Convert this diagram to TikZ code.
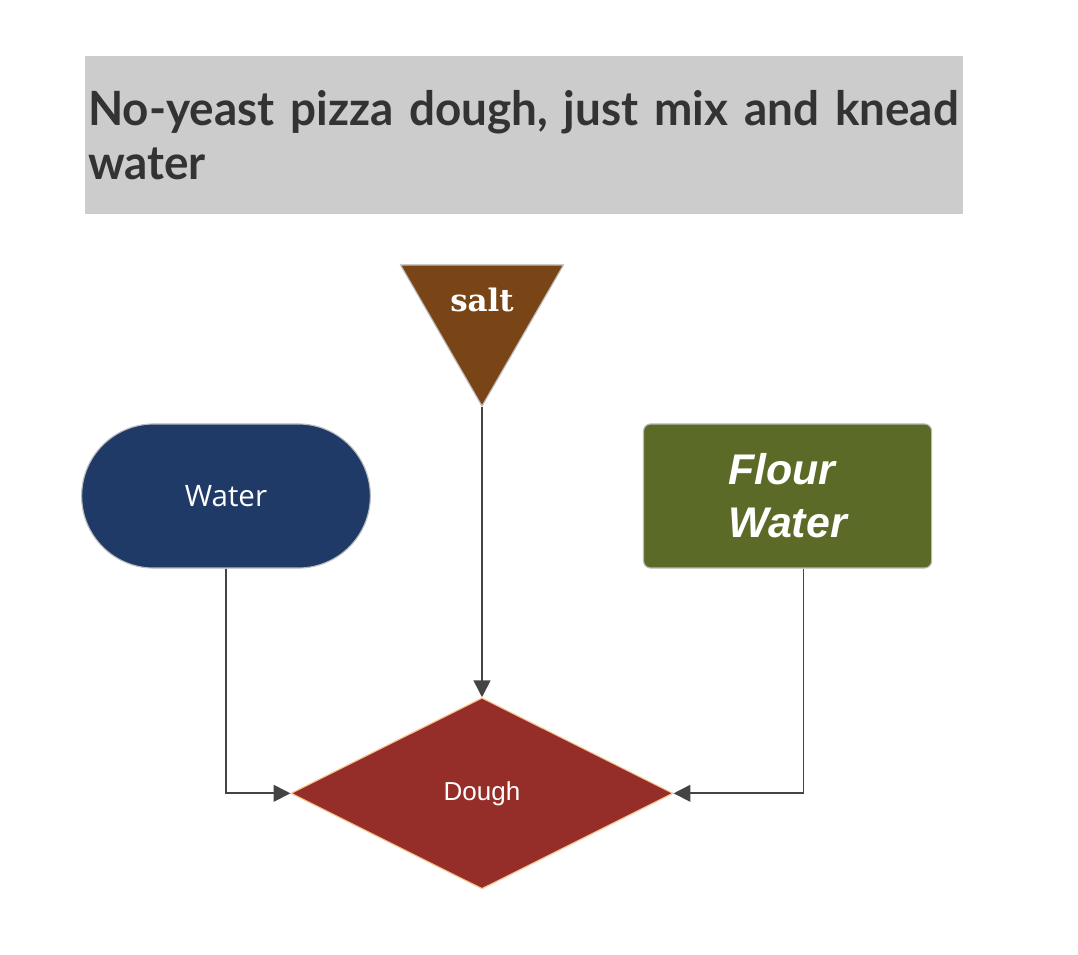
\documentclass[tikz,border=0pt]{standalone}
\usepackage{fontspec}
\usetikzlibrary{positioning,shapes.geometric,shapes.misc,arrows.meta}
\newfontfamily\titlefont[FakeStretch=0.97,WordSpace=0.8]{Lato}
\newfontfamily\saltfont{DejaVu Serif}
\newfontfamily\waterfont{Open Sans}
\newfontfamily\arialfont{Liberation Sans}
\definecolor{titlegray}{HTML}{CCCCCC}
\definecolor{textgray}{HTML}{333333}
\definecolor{linegray}{HTML}{444444}
\definecolor{edgegray}{HTML}{BBBBBB}
\definecolor{waterblue}{HTML}{1F3A66}
\definecolor{flourgreen}{HTML}{5B6A27}
\definecolor{saltbrown}{HTML}{7A4516}
\definecolor{doughred}{HTML}{952D28}
\definecolor{doughedge}{HTML}{F6C48C}

\begin{document}
\begin{tikzpicture}[
    x=0.025cm, y=-0.025cm,
    titlebar/.style={rectangle, fill=titlegray, text=textgray, anchor=north west,
                     minimum width=21.925cm, minimum height=3.95cm, inner sep=2pt,
                     text width=21.8cm, align=left,
                     font=\titlefont\bfseries\fontsize{33.6}{38.4}\selectfont},
    terminal/.style={rounded rectangle, draw=edgegray, fill=waterblue, text=white,
                     minimum width=7.45cm, minimum height=3.6cm, line width=0.8pt,
                     font=\waterfont\fontsize{21}{25}\selectfont},
    process/.style={rectangle, rounded corners=5pt, draw=edgegray, fill=flourgreen,
                    text=white, minimum width=7.2cm, minimum height=3.6cm,
                    line width=0.8pt, align=left,
                    font=\arialfont\bfseries\itshape\fontsize{30.5}{37.7}\selectfont},
    source/.style={regular polygon, regular polygon sides=3, shape border rotate=180,
                   draw=edgegray, fill=saltbrown, minimum size=4.7cm, inner sep=0pt,
                   line width=0.8pt},
    decision/.style={diamond, draw=doughedge, fill=doughred, text=white,
                     minimum width=9.55cm, minimum height=4.775cm, inner sep=0pt,
                     line width=0.8pt, font=\arialfont\fontsize{18.5}{22}\selectfont},
    link/.style={draw=linegray, line width=1.2pt,
                 -{Triangle[length=0.42cm,width=0.42cm]}}
]
\useasboundingbox (0,0) rectangle (1078,954);

\node[titlebar] (title) at (85,56)
      {\mbox{No-yeast pizza dough, just mix and knead}\\water};

\node[source, label={[text=white, yshift=0.3cm,
      font=\saltfont\bfseries\fontsize{22}{26}\selectfont]center:salt}] (salt) at (482,312) {};
\node[terminal] (water) at (226,496) {Water};
\node[process, right=6.8cm of water] (flour) {Flour\\Water};
\node[decision, below=7.25cm of salt] (dough) {Dough};

\draw[link] (water.south) |- (dough.west);
\draw[link] (salt.south) -- (dough.north);
\draw[link] ([xshift=0.4cm]flour.south) |- (dough.east);

\end{tikzpicture}
\end{document}
